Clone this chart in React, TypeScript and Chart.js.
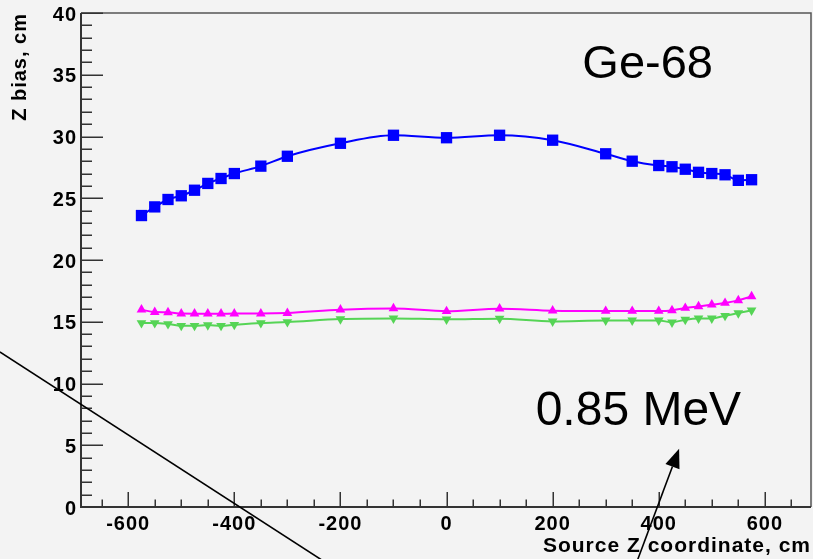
import React, { useEffect, useRef } from 'react';
import { Chart, registerables } from 'chart.js';

Chart.register(...registerables);

// ---- data ----
const sourceZ = [-575, -550, -525, -500, -475, -450, -425, -400, -350, -300, -200, -100, 0, 100, 200, 300, 350, 400, 425, 450, 475, 500, 525, 550, 575];
const blueBias = [23.6, 24.3, 24.9, 25.2, 25.65, 26.2, 26.6, 27.0, 27.6, 28.4, 29.45, 30.1, 29.9, 30.1, 29.7, 28.6, 28.0, 27.65, 27.55, 27.35, 27.1, 27.0, 26.9, 26.45, 26.5];
const magentaBias = [15.98, 15.78, 15.76, 15.66, 15.65, 15.65, 15.65, 15.66, 15.66, 15.7, 15.98, 16.08, 15.85, 16.06, 15.9, 15.87, 15.87, 15.87, 15.92, 16.11, 16.24, 16.38, 16.52, 16.73, 17.05];
const greenBias = [14.9, 14.9, 14.82, 14.68, 14.68, 14.73, 14.68, 14.76, 14.9, 14.98, 15.22, 15.27, 15.2, 15.25, 15.03, 15.11, 15.11, 15.11, 14.95, 15.17, 15.27, 15.27, 15.49, 15.7, 15.92];

const xTickValues = [-600, -400, -200, 0, 200, 400, 600];
const yTickValues = [0, 5, 10, 15, 20, 25, 30, 35, 40];
const xMin = -689;
const xMax = 687;
const yMin = 0;
const yMax = 40;

const xTitle = 'Source Z coordinate, cm';
const yTitle = 'Z bias, cm';
const isotopeLabel = 'Ge-68';
const energyLabel = '0.85 MeV';

// annotation anchors in data coordinates
const isotopeAnchor = [256, 34.74];
const energyAnchor = [168, 6.66];
const diagonalLine = [[-842, 12.55], [-215, -4.85]];
const arrowLine = [[353, -5.1], [438.4, 4.72]];

const BG = '#f3f3f3';
const BLUE = '#0000ff';
const MAGENTA = '#ff00ff';
const GREEN = '#55d455';
const AXIS = '#333333';

function minorTicks(min: number, max: number, step: number) {
  const out: number[] = [];
  for (let v = Math.ceil(min / step) * step; v <= max + 1e-9; v += step) out.push(v);
  return out;
}

const rootAxesPlugin = {
  id: 'rootAxes',
  beforeDraw(chart: any) {
    const ctx = chart.ctx;
    ctx.save();
    ctx.fillStyle = BG;
    ctx.fillRect(0, 0, chart.width, chart.height);
    ctx.restore();
    ctx.letterSpacing = '1px';
  },
  beforeDatasetsDraw(chart: any) {
    const { ctx, chartArea, scales } = chart;
    const { left, right, top, bottom } = chartArea;
    const xs = scales.x;
    const ys = scales.y;
    ctx.save();
    ctx.letterSpacing = '0px';
    // frame top/right
    ctx.strokeStyle = '#555555';
    ctx.lineWidth = 1.5;
    ctx.beginPath();
    ctx.moveTo(left, top);
    ctx.lineTo(right, top);
    ctx.lineTo(right, bottom);
    ctx.stroke();
    // axes
    ctx.strokeStyle = AXIS;
    ctx.lineWidth = 2;
    ctx.beginPath();
    ctx.moveTo(left, top);
    ctx.lineTo(left, bottom);
    ctx.lineTo(right, bottom);
    ctx.stroke();
    // ticks
    ctx.lineWidth = 1.5;
    ctx.beginPath();
    const yMajorLen = 22;
    const xMajorLen = 15;
    for (const v of minorTicks(yMin, yMax, 1)) {
      const py = Math.round(ys.getPixelForValue(v)) + 0.25;
      const len = v % 5 === 0 ? yMajorLen : yMajorLen / 2;
      ctx.moveTo(left, py);
      ctx.lineTo(left + len, py);
    }
    for (const v of minorTicks(xMin, xMax, 50)) {
      const px = Math.round(xs.getPixelForValue(v)) + 0.25;
      const len = v % 200 === 0 ? xMajorLen : xMajorLen / 2;
      ctx.moveTo(px, bottom);
      ctx.lineTo(px, bottom - len);
    }
    ctx.stroke();
    ctx.restore();
  },
  afterDraw(chart: any) {
    const { ctx, scales } = chart;
    const xs = scales.x;
    const ys = scales.y;
    const P = (pt: number[]) => [xs.getPixelForValue(pt[0]), ys.getPixelForValue(pt[1])];
    ctx.save();
    ctx.letterSpacing = '0px';
    ctx.strokeStyle = '#000';
    ctx.fillStyle = '#000';
    ctx.lineWidth = 1.6;
    // diagonal line
    const a = P(diagonalLine[0]);
    const b = P(diagonalLine[1]);
    ctx.beginPath();
    ctx.moveTo(a[0], a[1]);
    ctx.lineTo(b[0], b[1]);
    ctx.stroke();
    // arrow
    const t0 = P(arrowLine[0]);
    const t1 = P(arrowLine[1]);
    const dx = t1[0] - t0[0];
    const dy = t1[1] - t0[1];
    const L = Math.hypot(dx, dy);
    const ux = dx / L;
    const uy = dy / L;
    const headLen = 19;
    const headHalf = 7.5;
    const bx = t1[0] - ux * headLen;
    const by = t1[1] - uy * headLen;
    ctx.beginPath();
    ctx.moveTo(t0[0], t0[1]);
    ctx.lineTo(bx, by);
    ctx.stroke();
    ctx.beginPath();
    ctx.moveTo(t1[0], t1[1]);
    ctx.lineTo(bx - uy * headHalf, by + ux * headHalf);
    ctx.lineTo(bx + uy * headHalf, by - ux * headHalf);
    ctx.closePath();
    ctx.fill();
    // labels
    ctx.textBaseline = 'alphabetic';
    ctx.textAlign = 'left';
    ctx.font = '47px "Liberation Sans", Arial, sans-serif';
    const g = P(isotopeAnchor);
    ctx.fillText(isotopeLabel, g[0], g[1]);
    ctx.font = '48px "Liberation Sans", Arial, sans-serif';
    const e = P(energyAnchor);
    ctx.fillText(energyLabel, e[0], e[1]);
    ctx.restore();
  },
};

export default function App() {
  const ref = useRef<HTMLCanvasElement>(null);
  useEffect(() => {
    const canvas = ref.current;
    if (!canvas) return;
    const tickFont = { family: '"Liberation Sans", Arial, sans-serif', size: 20, weight: 'bold' as const };
    const mk = (vals: number[]) => sourceZ.map((x, i) => ({ x, y: vals[i] }));
    const chart = new Chart(canvas, {
      type: 'line',
      data: {
        datasets: [
          {
            data: mk(blueBias),
            borderColor: BLUE,
            backgroundColor: BLUE,
            borderWidth: 2,
            pointStyle: 'rect',
            pointRadius: 8,
            pointBorderWidth: 0,
            pointBackgroundColor: BLUE,
            cubicInterpolationMode: 'monotone',
            fill: false,
          },
          {
            data: mk(magentaBias),
            borderColor: MAGENTA,
            backgroundColor: MAGENTA,
            borderWidth: 2,
            pointStyle: 'triangle',
            pointRadius: 5.6,
            pointBorderWidth: 0,
            pointBackgroundColor: MAGENTA,
            cubicInterpolationMode: 'monotone',
            fill: false,
          },
          {
            data: mk(greenBias),
            borderColor: GREEN,
            backgroundColor: GREEN,
            borderWidth: 2,
            pointStyle: 'triangle',
            pointRotation: 180,
            pointRadius: 5.6,
            pointBorderWidth: 0,
            pointBackgroundColor: GREEN,
            cubicInterpolationMode: 'monotone',
            fill: false,
          },
        ],
      },
      options: {
        animation: false,
        responsive: false,
        events: [],
        layout: { autoPadding: false, padding: { top: 13, right: 2, left: 0, bottom: 0 } },
        plugins: { legend: { display: false }, tooltip: { enabled: false }, title: { display: false } },
        scales: {
          x: {
            type: 'linear',
            min: xMin,
            max: xMax,
            grid: { display: false, drawTicks: false },
            border: { display: false },
            afterBuildTicks: (s: any) => { s.ticks = xTickValues.map((v) => ({ value: v })); },
            afterFit: (s: any) => { s.height = 52; s.paddingLeft = 0; s.paddingRight = 0; },
            ticks: { font: tickFont, color: '#000', padding: 5, maxRotation: 0, autoSkip: false, callback: (v: any) => String(v) },
            title: { display: true, text: xTitle, align: 'end', color: '#000', font: { ...tickFont, size: 21 }, padding: { top: 0, bottom: 0 } },
          },
          y: {
            type: 'linear',
            min: yMin,
            max: yMax,
            grid: { display: false, drawTicks: false },
            border: { display: false },
            afterBuildTicks: (s: any) => { s.ticks = yTickValues.map((v) => ({ value: v })); },
            afterFit: (s: any) => { s.width = 81; s.paddingTop = 0; s.paddingBottom = 0; },
            ticks: { font: tickFont, color: '#000', padding: 4, labelOffset: 2, autoSkip: false, callback: (v: any) => String(v) },
            title: { display: true, text: yTitle, align: 'end', color: '#000', font: { ...tickFont, size: 20 }, padding: { top: 8, bottom: 0 } },
          },
        },
      },
      plugins: [rootAxesPlugin],
    } as any);
    return () => chart.destroy();
  }, []);
  return (
    <div style={{ position: 'fixed', left: 0, top: 0, width: 813, height: 559, background: BG }}>
      <canvas ref={ref} width={813} height={559} style={{ display: 'block', width: 813, height: 559 }} />
    </div>
  );
}
